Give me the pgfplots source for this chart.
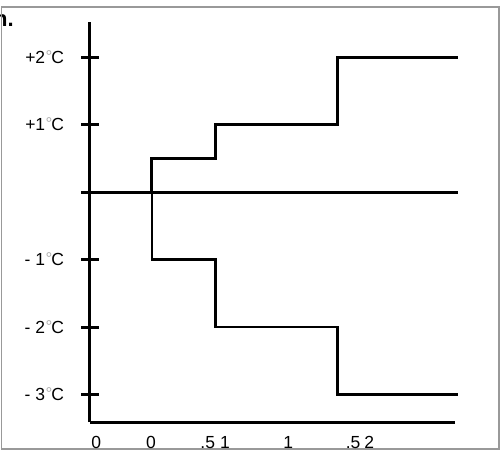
\documentclass[border=0pt]{standalone}
\usepackage{pgfplots}
\pgfplotsset{compat=1.18}
\usepackage{fontspec}
\setmainfont{Liberation Sans}
\newcommand{\dg}{\kern0.3pt\textcolor{gray!65}{\raisebox{0.1ex}{\fontsize{17}{17}\selectfont °}}\kern-1pt}
\begin{document}
\begin{tikzpicture}[x=1pt,y=1pt]
\useasboundingbox (0,0) rectangle (501,453);
\begin{scope}
\clip (0,0) rectangle (501,453);
\node[anchor=base east, font=\fontsize{22}{24}\selectfont\bfseries, inner sep=0pt] at (14,426) {n.};
\end{scope}
\draw[gray!80, line width=1.5pt] (1.5,4) rectangle (499,446);
\begin{axis}[
  at={(90pt,31pt)}, anchor=south west,
  scale only axis, width=365pt, height=400pt,
  xmin=0, xmax=5.95, ymin=-3.407, ymax=2.52,
  clip=false,
  axis x line=bottom, axis y line=left,
  axis line style={-, line width=3pt, black},
  ytick={-3,-2,-1,0,1,2},
  yticklabels={-\hspace{5pt}3\dg C,-\hspace{5pt}2\dg C,-\hspace{5pt}1\dg C,,+1\dg C,+2\dg C},
  xtick={0.1,0.995,2.04,3.23,4.40},
  xticklabels={0,0,.5\hspace{5pt}1,1,.5\hspace{4pt}2},
  ytick style={line width=3pt, black},
  y tick label style={font=\fontsize{17.5}{20}\selectfont, anchor=east, xshift=-14pt},
  x tick label style={font=\fontsize{17.5}{20}\selectfont, yshift=-2pt},
  xtick style={draw=none},
  major tick length=17pt, tick align=center,
  tickpos=left,
]
\addplot[black, line width=3pt] coordinates {(0,0) (6,0)};
\addplot[black, line width=3pt] coordinates {(1.01,0) (1.01,0.5) (2.04,0.5) (2.04,1) (4.03,1) (4.03,2) (6,2)};
\addplot[black, line width=2.8pt] coordinates {(1.01,0) (1.01,-1) (2.04,-1) (2.04,-2) (4.03,-2) (4.03,-3) (6,-3)};
\end{axis}
\end{tikzpicture}
\end{document}
